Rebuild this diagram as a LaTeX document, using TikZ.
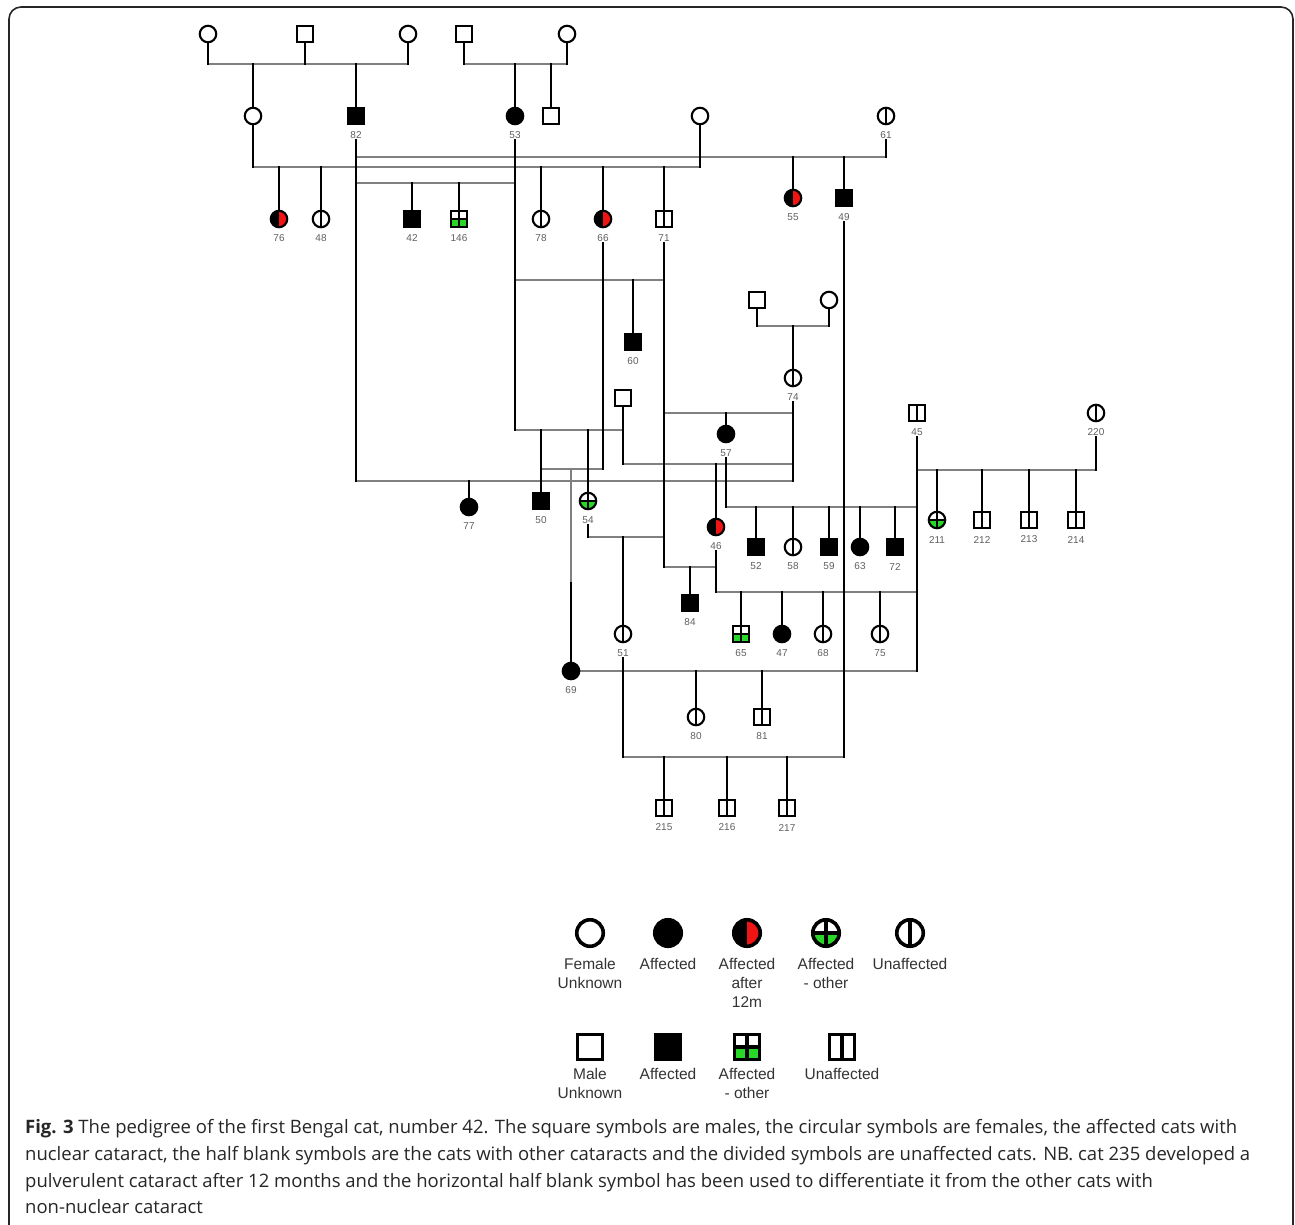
\documentclass[tikz,border=0pt]{standalone}
\usepackage{fontspec}
\setmainfont{Liberation Sans}
\newfontfamily\capfont{Open Sans}
\usetikzlibrary{backgrounds}
\definecolor{hgray}{RGB}{128,128,128}
\definecolor{agreen}{RGB}{40,215,40}
\definecolor{ared}{RGB}{240,20,20}
\definecolor{labgray}{RGB}{95,95,95}
\tikzset{
 innerlw/.initial=1.8pt,
 sym/.style={draw=black, line width=2.1pt, inner sep=0pt, fill=white},
 fem/.style={sym, circle, minimum size=16.5pt},
 male/.style={sym, rectangle, minimum size=15.5pt},
 fema/.style={fem, fill=black},
 malea/.style={male, fill=black},
 vdiv/.style={path picture={\draw[line width=\pgfkeysvalueof{/tikz/innerlw}] (path picture bounding box.north) -- (path picture bounding box.south);}},
 halfred/.style={path picture={\fill[black] (path picture bounding box.north west) rectangle (path picture bounding box.south);
   \fill[ared] (path picture bounding box.north) rectangle (path picture bounding box.south east);}},
 crossg/.style={path picture={\fill[agreen] (path picture bounding box.west) rectangle (path picture bounding box.south east);
   \draw[line width=\pgfkeysvalueof{/tikz/innerlw}] (path picture bounding box.north) -- (path picture bounding box.south)
     (path picture bounding box.west) -- (path picture bounding box.east);}},
 femu/.style={fem, vdiv}, maleu/.style={male, vdiv},
 femr/.style={fem, halfred}, femg/.style={fem, crossg}, maleg/.style={male, crossg},
 lsym/.style={line width=3.6pt, innerlw=3.4pt},
 lab/.style={font=\fontsize{10}{10}\selectfont, text=labgray, inner sep=1pt},
 legtxt/.style={font=\fontsize{15.5}{19}\selectfont, text=black!80, align=center, anchor=north, inner sep=0pt},
 captxt/.style={font=\capfont\fontsize{18.5}{22}\selectfont, text=black!85, anchor=base west, inner sep=0pt},
 hl/.style={draw=hgray, line width=2.5pt},
 vl/.style={draw=black, line width=2.8pt, line cap=rect},
}
\newcommand{\catnode}[5]{\node[#1] (#2) at (#3,#4) {}; \node[lab] (#2l) at (#3,#4+19.5) {#5};}
\begin{document}
\begin{tikzpicture}[x=1pt,y=-1pt]
\useasboundingbox (0,0) rectangle (1295,1224);
\draw[line width=1.6pt, black!85, rounded corners=12pt] (9,1260) -- (9,7) -- (1293,7) -- (1293,1260);

% ---------- pedigree symbols ----------
\node[fem]  (g1a) at (208,34) {};
\node[male] (g1b) at (305,34) {};
\node[fem]  (g1c) at (408,34) {};
\node[male] (g1d) at (464,34) {};
\node[fem]  (g1e) at (567,34) {};

\node[fem] (u253) at (253,116) {};
\catnode{malea}{n82}{356}{116}{82}
\catnode{fema}{n53}{515}{116}{53}
\node[male] (u551) at (551,116) {};
\node[fem] (u700) at (700,116) {};
\catnode{femu}{n61}{886}{116}{61}

\catnode{femr}{n76}{279}{219}{76}
\catnode{femu}{n48}{321}{219}{48}
\catnode{malea}{n42}{412}{219}{42}
\catnode{maleg}{n146}{459}{219}{146}
\catnode{femu}{n78}{541}{219}{78}
\catnode{femr}{n66}{603}{219}{66}
\catnode{maleu}{n71}{664}{219}{71}
\catnode{femr}{n55}{793}{198}{55}
\catnode{malea}{n49}{844}{198}{49}

\node[male] (u757) at (757,300) {};
\node[fem] (u829) at (829,300) {};
\catnode{malea}{n60}{633}{342}{60}
\catnode{femu}{n74}{793}{378}{74}
\node[male] (u623) at (623,398) {};
\catnode{maleu}{n45}{917}{413}{45}
\catnode{femu}{n220}{1096}{413}{220}
\catnode{fema}{n57}{726}{434}{57}
\catnode{fema}{n77}{469}{507}{77}
\catnode{malea}{n50}{541}{501}{50}
\catnode{femg}{n54}{588}{501}{54}
\catnode{femr}{n46}{716}{527}{46}
\catnode{femg}{n211}{937}{520}{211}
\catnode{maleu}{n212}{982}{520}{212}
\catnode{maleu}{n213}{1029}{520}{213}
\catnode{maleu}{n214}{1076}{520}{214}
\catnode{malea}{n52}{756}{547}{52}
\catnode{femu}{n58}{793}{547}{58}
\catnode{malea}{n59}{829}{547}{59}
\catnode{fema}{n63}{860}{547}{63}
\catnode{malea}{n72}{895}{547}{72}
\catnode{malea}{n84}{690}{603}{84}
\catnode{femu}{n51}{623}{634}{51}
\catnode{maleg}{n65}{741}{634}{65}
\catnode{fema}{n47}{782}{634}{47}
\catnode{femu}{n68}{823}{634}{68}
\catnode{femu}{n75}{880}{634}{75}
\catnode{fema}{n69}{571}{671}{69}
\catnode{femu}{n80}{696}{717}{80}
\catnode{maleu}{n81}{762}{717}{81}
\catnode{maleu}{n215}{664}{808}{215}
\catnode{maleu}{n216}{727}{808}{216}
\catnode{maleu}{n217}{787}{808}{217}

% ---------- connectors ----------
\begin{scope}[on background layer]
% mating / sibship lines (gray)
\draw[hl] (g1a |- 0,64) -- (g1c |- 0,64);
\draw[hl] (g1d |- 0,64) -- (g1e |- 0,64);
\draw[hl] (u253 |- 0,167) -- (u700 |- 0,167);
\draw[hl] (n82 |- 0,157) -- (n61 |- 0,157);
\draw[hl] (n82 |- 0,183) -- (n53 |- 0,183);
\draw[hl] (n53 |- 0,280) -- (n71 |- 0,280);
\draw[hl] (u757 |- 0,326) -- (u829 |- 0,326);
\draw[hl] (n71 |- 0,413) -- (n74 |- 0,413);
\draw[hl] (n53 |- 0,430) -- (u623 |- 0,430);
\draw[hl] (u623 |- 0,464) -- (n74 |- 0,464);
\draw[hl] (n50 |- 0,469) -- (n66 |- 0,469);
\draw[hl] (n45 |- 0,470) -- (n220 |- 0,470);
\draw[hl] (n82 |- 0,481) -- (n74 |- 0,481);
\draw[hl] (n57 |- 0,507) -- (n45 |- 0,507);
\draw[hl] (n54 |- 0,537) -- (n71 |- 0,537);
\draw[hl] (n71 |- 0,567) -- (n46 |- 0,567);
\draw[hl] (n46 |- 0,592) -- (n45 |- 0,592);
\draw[hl] (n69.east) -- (n45 |- n69);
\draw[hl] (n51 |- 0,757) -- (n49 |- 0,757);
\draw[hl] (n69 |- 0,469) -- (n69 |- 0,583);
% descent lines (black)
\foreach \a in {g1a,g1b,g1c,g1d,g1e} \draw[vl] (\a.south) -- (\a |- 0,64);
\foreach \a in {u253,n82,n53,u551} \draw[vl] (\a |- 0,64) -- (\a.north);
\draw[vl] (u253.south) -- (u253 |- 0,167);
\draw[vl] (u700.south) -- (u700 |- 0,167);
\foreach \a in {n76,n48,n78,n66,n71} \draw[vl] (\a |- 0,167) -- (\a.north);
\draw[vl] (n61l.south) -- (n61 |- 0,157);
\foreach \a in {n55,n49} \draw[vl] (\a |- 0,157) -- (\a.north);
\foreach \a in {n42,n146} \draw[vl] (\a |- 0,183) -- (\a.north);
\draw[vl] (n82l.south) -- (n82 |- 0,481);
\draw[vl] (n53l.south) -- (n53 |- 0,430);
\draw[vl] (n66l.south) -- (n66 |- 0,469);
\draw[vl] (n71l.south) -- (n71 |- 0,567);
\draw[vl] (n49l.south) -- (n49 |- 0,757);
\draw[vl] (n60 |- 0,280) -- (n60.north);
\draw[vl] (u757.south) -- (u757 |- 0,326);
\draw[vl] (u829.south) -- (u829 |- 0,326);
\draw[vl] (n74 |- 0,326) -- (n74.north);
\draw[vl] (n74l.south) -- (n74 |- 0,481);
\draw[vl] (n57 |- 0,413) -- (n57.north);
\draw[vl] (u623.south) -- (u623 |- 0,464);
\draw[vl] (n46 |- 0,464) -- (n46.north);
\draw[vl] (n77 |- 0,481) -- (n77.north);
\draw[vl] (n50 |- 0,430) -- (n50.north);
\draw[vl] (n54 |- 0,430) -- (n54.north);
\draw[vl] (n69 |- 0,583) -- (n69.north);
\draw[vl] (n54l.south) -- (n54 |- 0,537);
\draw[vl] (n51 |- 0,537) -- (n51.north);
\draw[vl] (n84 |- 0,567) -- (n84.north);
\draw[vl] (n46l.south) -- (n46 |- 0,592);
\foreach \a in {n65,n47,n68,n75} \draw[vl] (\a |- 0,592) -- (\a.north);
\draw[vl] (n57l.south) -- (n57 |- 0,507);
\foreach \a in {n52,n58,n59,n63,n72} \draw[vl] (\a |- 0,507) -- (\a.north);
\draw[vl] (n45l.south) -- (n45 |- n69);
\draw[vl] (n220l.south) -- (n220 |- 0,470);
\foreach \a in {n211,n212,n213,n214} \draw[vl] (\a |- 0,470) -- (\a.north);
\foreach \a in {n80,n81} \draw[vl] (\a |- n69) -- (\a.north);
\draw[vl] (n51l.south) -- (n51 |- 0,757);
\foreach \a in {n215,n216,n217} \draw[vl] (\a |- 0,757) -- (\a.north);
\end{scope}

% ---------- legend ----------
\node[fem, lsym, minimum size=26.5pt] (k1) at (590,933) {};
\node[fema, lsym, minimum size=26.5pt] (k2) at (668,933) {};
\node[femr, lsym, minimum size=26.5pt] (k3) at (747,933) {};
\node[femg, lsym, minimum size=26.5pt] (k4) at (826,933) {};
\node[femu, lsym, minimum size=26.5pt] (k5) at (910,933) {};
\node[male, lsym, minimum size=25pt] (k6) at (590,1047) {};
\node[malea, lsym, minimum size=25pt] (k7) at (668,1047) {};
\node[maleg, lsym, minimum size=25pt] (k8) at (747,1047) {};
\node[maleu, lsym, minimum size=25pt] (k9) at (842,1047) {};
\node[legtxt] (t1) at (590,958) {Female\\Unknown};
\node[legtxt] (t2) at (668,958) {Affected};
\node[legtxt] (t3) at (747,958) {Affected\\after\\12m};
\node[legtxt] (t4) at (826,958) {Affected\\- other};
\node[legtxt] (t5) at (910,958) {Unaffected};
\node[legtxt] (t6) at (590,1068) {Male\\Unknown};
\node[legtxt] (t7) at (668,1068) {Affected};
\node[legtxt] (t8) at (747,1068) {Affected\\- other};
\node[legtxt] (t9) at (842,1068) {Unaffected};

% ---------- caption ----------
\node[captxt] (c1) at (25,1133) {\textbf{Fig. 3} The pedigree of the first Bengal cat, number 42. The square symbols are males, the circular symbols are females, the affected cats with};
\node[captxt] (c2) at (25,1160) {nuclear cataract, the half blank symbols are the cats with other cataracts and the divided symbols are unaffected cats. NB. cat 235 developed a};
\node[captxt] (c3) at (25,1187) {pulverulent cataract after 12 months and the horizontal half blank symbol has been used to differentiate it from the other cats with};
\node[captxt] (c4) at (25,1213) {non-nuclear cataract};
\end{tikzpicture}
\end{document}
